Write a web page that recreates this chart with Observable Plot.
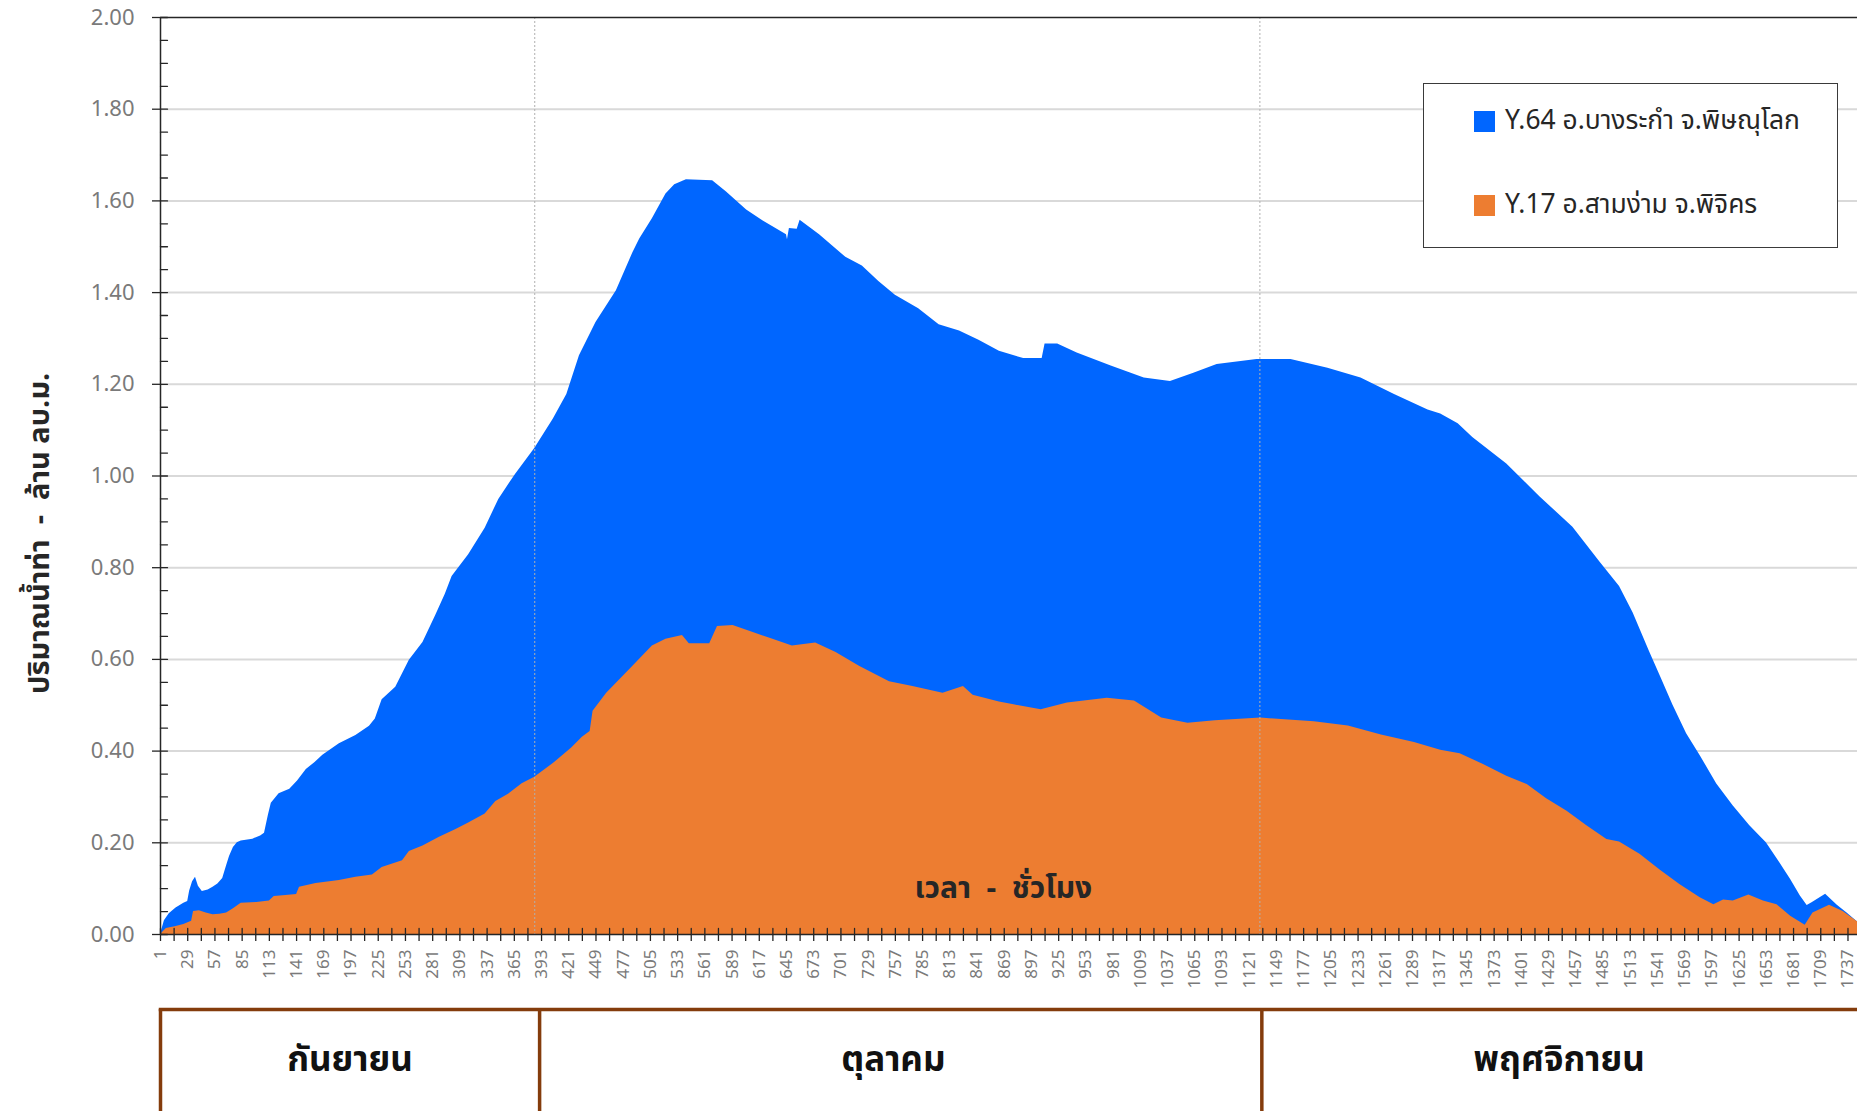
<!DOCTYPE html>
<html>
<head>
<meta charset="utf-8">
<script src="https://cdn.jsdelivr.net/npm/d3@7"></script>
<script src="https://cdn.jsdelivr.net/npm/@observablehq/plot@0.6"></script>
<style>
  html, body { margin: 0; padding: 0; background: #fff; overflow: hidden; }
  #wrap { position: relative; width: 1857px; height: 1111px; overflow: hidden; }
  #wrap svg { display: block; max-width: none !important; }
  #legend {
    position: absolute; left: 1423px; top: 83px; width: 415px; height: 165px;
    box-sizing: border-box; border: 1.3px solid #3a3a3a; background: #fff;
    font-family: "Noto Sans Thai", "Noto Sans", Tahoma, sans-serif; font-size: 26.4px; color: #262626;
  }
  #legend .row { position: absolute; left: 50px; display: flex; align-items: center; white-space: nowrap; }
  #legend .sw { width: 21px; height: 21px; margin-right: 10px; }
</style>
</head>
<body>
<div id="wrap"><div id="legend"></div></div>
<script>
// ---------- data ----------
const seriesNames = ["Y.64 อ.บางระกำ จ.พิษณุโลก", "Y.17 อ.สามง่าม จ.พิจิคร"];
const seriesColors = ["#0066ff", "#ed7d31"];

const y64Hours = [1,5,10,17,25,29,31,34,37,40,44,50,55,60,65,69,72,76,80,84,96,104,108,112,115,123,134,142,151,160,168,185,202,216,222,229,243,257,271,284,294,301,318,335,349,366,386,405,419,432,449,470,487,494,507,521,530,542,569,583,604,621,645,646,648,656,659,679,706,723,740,757,781,802,823,843,864,889,908,911,924,944,979,1013,1040,1064,1088,1129,1164,1202,1236,1271,1305,1318,1336,1351,1386,1420,1454,1482,1502,1516,1533,1544,1557,1571,1585,1602,1619,1636,1653,1667,1678,1688,1695,1700,1714,1726,1736,1746,1752];
const y64Values = [0,0.03,0.045,0.058,0.068,0.072,0.095,0.115,0.125,0.105,0.094,0.097,0.103,0.11,0.122,0.15,0.17,0.19,0.2,0.204,0.208,0.215,0.221,0.26,0.286,0.307,0.317,0.335,0.36,0.375,0.391,0.416,0.434,0.454,0.47,0.512,0.539,0.598,0.637,0.695,0.742,0.781,0.828,0.886,0.949,1.003,1.06,1.124,1.178,1.262,1.335,1.404,1.487,1.517,1.561,1.615,1.635,1.646,1.644,1.62,1.58,1.556,1.526,1.515,1.54,1.538,1.558,1.526,1.477,1.458,1.424,1.394,1.365,1.33,1.316,1.296,1.272,1.256,1.256,1.288,1.288,1.268,1.24,1.214,1.206,1.224,1.243,1.254,1.254,1.235,1.214,1.177,1.144,1.135,1.114,1.084,1.026,0.955,0.888,0.812,0.759,0.701,0.616,0.563,0.5,0.438,0.39,0.328,0.28,0.237,0.2,0.156,0.12,0.084,0.063,0.069,0.088,0.064,0.047,0.029,0.022];

const y17Hours = [1,7,16,25,33,35,41,48,55,62,69,76,84,100,113,118,130,141,144,161,185,202,219,229,250,257,271,288,305,318,335,346,359,373,386,407,424,435,443,446,460,487,507,521,538,545,566,574,590,610,631,651,675,696,720,751,775,806,827,837,864,879,907,934,975,1003,1031,1058,1086,1133,1188,1223,1257,1291,1318,1338,1362,1386,1407,1427,1448,1468,1489,1502,1523,1544,1564,1585,1599,1609,1619,1635,1650,1664,1678,1693,1701,1718,1732,1746,1752];
const y17Values = [0,0.013,0.017,0.022,0.029,0.05,0.052,0.047,0.043,0.044,0.047,0.056,0.068,0.07,0.073,0.083,0.085,0.087,0.103,0.111,0.118,0.125,0.13,0.146,0.161,0.181,0.193,0.212,0.229,0.243,0.263,0.29,0.306,0.329,0.343,0.376,0.407,0.43,0.443,0.487,0.526,0.585,0.629,0.644,0.652,0.634,0.634,0.672,0.674,0.659,0.644,0.629,0.636,0.615,0.585,0.551,0.541,0.526,0.541,0.522,0.507,0.501,0.49,0.505,0.515,0.509,0.472,0.461,0.466,0.472,0.464,0.455,0.435,0.419,0.402,0.394,0.371,0.345,0.327,0.296,0.269,0.238,0.207,0.202,0.175,0.14,0.109,0.08,0.065,0.075,0.073,0.086,0.073,0.065,0.04,0.02,0.047,0.064,0.05,0.029,0.02];

const yTicks = [0, 0.2, 0.4, 0.6, 0.8, 1.0, 1.2, 1.4, 1.6, 1.8, 2.0];
const yMinorTicks = d3.range(0, 41).map(i => i * 0.05);
const xTickHours = d3.range(1, 1752, 14);          // tick marks every 14 hours
const xLabelStep = 28;                              // labels every 28 hours
const monthLineHours = [386, 1132];                 // dashed month separators
const monthNames = ["กันยายน", "ตุลาคม", "พฤศจิกายน"];
const monthStartHours = [1, 391, 1134];
const monthLabelHours = [196, 755, 1440];
const yTitle = "ปริมาณน้ำท่า  -  ล้าน ลบ.ม.";
const yTitleValue = 0.875;
const xTitle = "เวลา  -  ชั่วโมง";
const xTitleHour = 868;
const xTitleValue = 0.1;

// ---------- build ----------
const thaiFont = '"Noto Sans Thai", "Noto Sans", Tahoma, sans-serif';
const numFont = '"Noto Sans", "Open Sans", sans-serif';
const y64 = y64Hours.map((h, i) => ({h, v: y64Values[i]}));
const y17 = y17Hours.map((h, i) => ({h, v: y17Values[i]}));

const W = 1899;
const xDomain = [1, 1790];
const dark = "#262626";
const grey = "#7a7a7a";

const main = Plot.plot({
  width: W, height: 1007,
  marginLeft: 160, marginRight: 0, marginTop: 17, marginBottom: 73,
  style: {fontFamily: numFont, background: "#fff", maxWidth: "none"},
  x: {domain: xDomain},
  y: {domain: [0, 2]},
  marks: [
    Plot.ruleY(yTicks.filter(d => d > 0 && d < 2), {stroke: "#d9d9d9", strokeWidth: 2}),
    Plot.areaY(y64, {x: "h", y: "v", fill: seriesColors[0]}),
    Plot.areaY(y17, {x: "h", y: "v", fill: seriesColors[1]}),
    Plot.ruleX(monthLineHours, {stroke: "#b0b0b0", strokeWidth: 1, strokeDasharray: "2,2"}),
    Plot.ruleY([2], {stroke: dark, strokeWidth: 1.5}),
    Plot.ruleY([0], {stroke: dark, strokeWidth: 1.5}),
    Plot.ruleX([xDomain[0]], {stroke: dark, strokeWidth: 1.5}),
    // inner minor ticks on y axis
    Plot.vector(yMinorTicks, {x: xDomain[0], y: d => d, rotate: 90, length: 7, anchor: "start", stroke: dark, strokeWidth: 1.3, shape: "spike", r: 0}),
    // upper half of x tick marks
    Plot.vector(xTickHours, {x: d => d, y: 0, rotate: 0, length: 6, anchor: "start", stroke: dark, strokeWidth: 1.3, shape: "spike", r: 0}),
    Plot.axisY({ticks: yTicks, tickFormat: d3.format(".2f"), tickSize: 8, tickPadding: 18,
      fontSize: 22, fill: grey, stroke: dark, strokeWidth: 1.3, label: null}),
    Plot.axisX({ticks: xTickHours, tickFormat: d => ((d - 1) % xLabelStep === 0 ? String(d) : ""),
      tickSize: 7, tickPadding: 8, tickRotate: -90, fontSize: 17, fill: grey, stroke: dark, strokeWidth: 1.3, label: null}),
    Plot.text([yTitle], {y: yTitleValue, frameAnchor: "left", textAnchor: "middle", rotate: -90, dx: -121, fontSize: 29, fontWeight: "bold",
      fill: dark, fontFamily: thaiFont}),
    Plot.text([xTitle], {x: xTitleHour, y: xTitleValue, fontSize: 30, fontWeight: "bold",
      fill: dark, fontFamily: thaiFont})
  ]
});

const monthRows = monthNames.map((m, i) => ({name: m, start: monthStartHours[i], mid: monthLabelHours[i]}));
const table = Plot.plot({
  width: W, height: 110,
  marginLeft: 160, marginRight: 0, marginTop: 2, marginBottom: 0,
  style: {fontFamily: thaiFont, background: "#fff", maxWidth: "none"},
  x: {domain: xDomain, axis: null},
  y: {axis: null},
  marks: [
    Plot.frame({anchor: "top", stroke: "#843c0c", strokeWidth: 3.5}),
    Plot.ruleX(monthRows, {x: "start", stroke: "#843c0c", strokeWidth: 3.5}),
    Plot.text(monthRows, {x: "mid", text: "name", frameAnchor: "middle", dy: -4, fontSize: 35, fontWeight: "bold", fill: "#111"})
  ]
});

const wrap = document.getElementById("wrap");
wrap.insertBefore(main, wrap.firstChild);
wrap.insertBefore(table, document.getElementById("legend"));

const legend = document.getElementById("legend");
seriesNames.forEach((name, i) => {
  const row = document.createElement("div");
  row.className = "row";
  row.style.top = (i === 0 ? 17 : 101) + "px";
  row.innerHTML = `<span class="sw" style="background:${seriesColors[i]}"></span><span>${name}</span>`;
  legend.appendChild(row);
});
</script>
</body>
</html>
